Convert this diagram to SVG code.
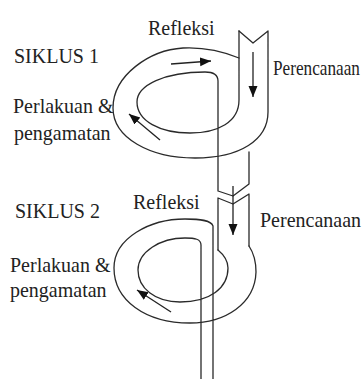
<svg xmlns="http://www.w3.org/2000/svg" width="362" height="379" viewBox="0 0 362 379">
  <style>
    .band { fill: none; stroke: #2a2a2a; stroke-width: 1.3; stroke-linejoin: round; stroke-linecap: round; }
    .flow { fill: none; stroke: #222; stroke-width: 1.3; marker-end: url(#head); }
    .lbl { font-family: "Liberation Serif", "Times New Roman", serif; font-size: 20px; fill: #222; }
  </style>
  <defs>
    <marker id="head" markerUnits="userSpaceOnUse" markerWidth="12" markerHeight="10" refX="11" refY="4.5" orient="auto">
      <path d="M0,0 L11,4.5 L0,9 Z" fill="#111"/>
    </marker>
  </defs>
  <rect width="362" height="379" fill="#fff"/>

  <!-- first cycle: spiral ribbon -->
  <g id="cycle1">
    <!-- outer edge: band right side wrapping round to the band's left side -->
    <path class="band" d="M239 31 L253 43 L268 31 L268 112 C268 140 240 158 195 158 C150 158 113 138 113 108 C113 75 150 50 183 48 C203 47 222 51 239 58"/>
    <!-- inner edge: band left side wrapping round and leaving as the stem -->
    <path class="band" d="M239 31 L239 100 C239 122 218 133 190 133 C160 133 137 121 137 102 C137 85 165 72 205 72 C214 72 218 75 218 81 L218 191 L233 196 L249 184 L249 152"/>
  </g>

  <!-- second cycle: spiral ribbon -->
  <g id="cycle2">
    <!-- band top notch -->
    <path class="band" d="M218 250 L218 198 L233 204 L249 194 L249 246"/>
    <!-- outer edge -->
    <path class="band" d="M249 246 C253 252 256 262 256 272 C255 304 225 323 190 323 C145 323 114 300 114 268 C114 238 150 219 185 219 C200 219 211 220 213 226 L213 379"/>
    <!-- inner edge -->
    <path class="band" d="M218 250 C224 255 228 262 228 268 C228 288 210 302 180 302 C155 302 138 288 138 270 C138 252 160 238 185 238 C195 238 201 239 201 245 L201 379"/>
  </g>

  <!-- flow arrows -->
  <g id="connectors">
    <path class="flow" d="M171 64 L211 61"/>
    <path class="flow" d="M253 52 L253 97"/>
    <path class="flow" d="M160 140 L129 114"/>
    <path class="flow" d="M233 186 L233 235"/>
    <path class="flow" d="M171 312 L137 290"/>
  </g>

  <g id="labels1">
    <text class="lbl" transform="translate(148 35) scale(1 1.1)">Refleksi</text>
    <text class="lbl" transform="translate(14 63) scale(1 1.1)">SIKLUS 1</text>
    <text class="lbl" transform="translate(273 75) scale(1 1.28)" style="font-size:17.2px">Perencanaan</text>
    <text class="lbl" transform="translate(13 113) scale(1 1.1)">Perlakuan &amp;</text>
    <text class="lbl" transform="translate(14 140) scale(1 1.1)">pengamatan</text>
  </g>

  <g id="labels2">
    <text class="lbl" transform="translate(133 209) scale(1 1.1)">Refleksi</text>
    <text class="lbl" transform="translate(15 218) scale(1 1.1)">SIKLUS 2</text>
    <text class="lbl" transform="translate(260 227) scale(1 1.1)">Perencanaan</text>
    <text class="lbl" transform="translate(10 272) scale(1 1.1)">Perlakuan &amp;</text>
    <text class="lbl" transform="translate(10 297) scale(1 1.1)">pengamatan</text>
  </g>
</svg>
